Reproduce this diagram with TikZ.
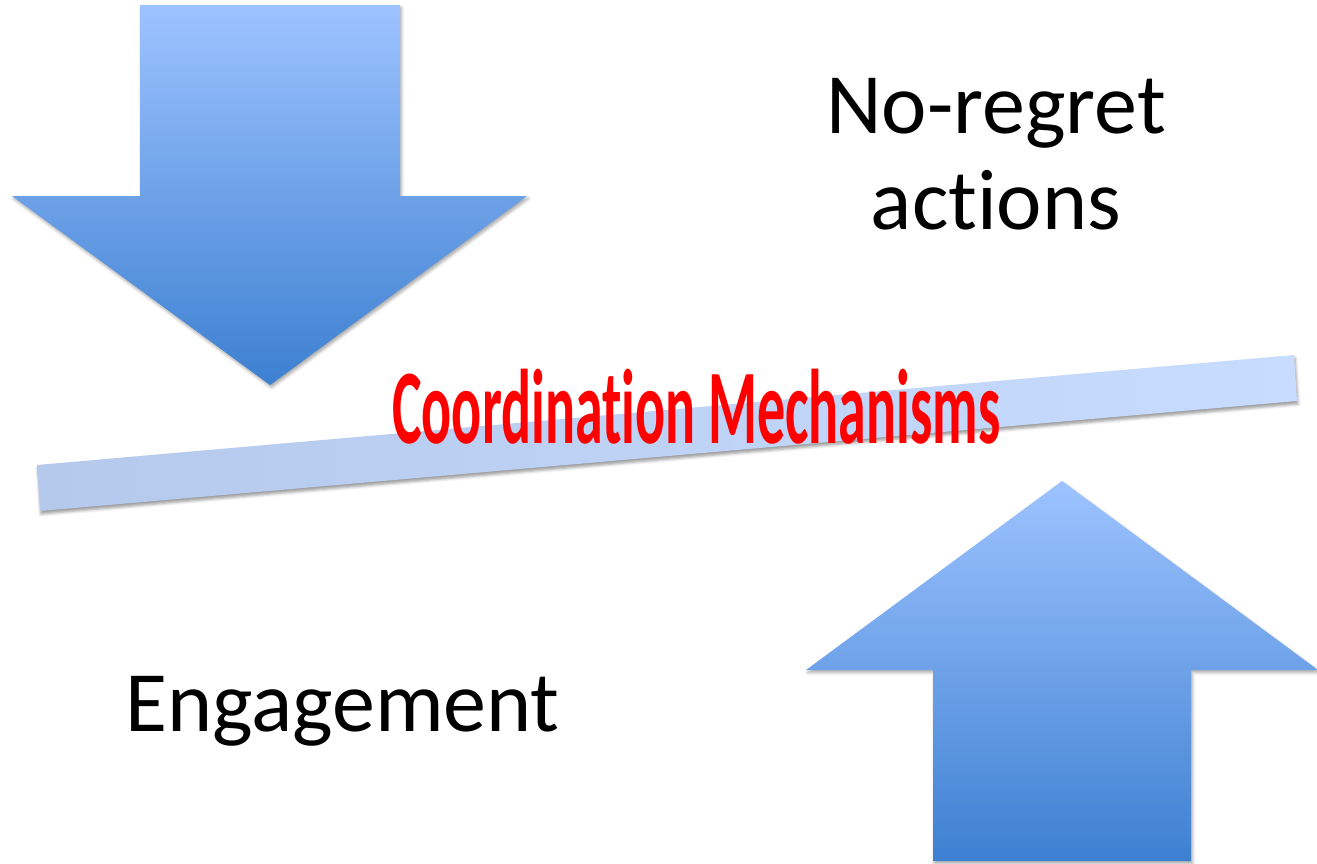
\documentclass[tikz,border=0pt]{standalone}
\usepackage{fontspec}
\setmainfont{Carlito}[Ligatures=NoCommon]
\usetikzlibrary{shadows.blur}
\definecolor{arrowtop}{HTML}{9DC3FF}
\definecolor{arrowmid}{HTML}{84B1F3}
\definecolor{arrowbot}{HTML}{3D80D1}
\definecolor{beamleft}{HTML}{B4C9EC}
\definecolor{beamright}{HTML}{C8DCFF}
\begin{document}
\begin{tikzpicture}[x=1pt,y=-1pt,
    bigarrow/.style={top color=arrowtop,middle color=arrowmid,bottom color=arrowbot,
      blur shadow={shadow xshift=1.5pt,shadow yshift=-2.5pt,shadow blur radius=3pt,shadow opacity=35}},
    beam/.style={left color=beamleft,right color=beamright,
      blur shadow={shadow xshift=1pt,shadow yshift=-3pt,shadow blur radius=3pt,shadow opacity=40}},
    caption/.style={inner sep=0pt,font=\fontsize{86}{96}\selectfont}]
  \useasboundingbox (0,0) rectangle (1317,863);
  \path[bigarrow] (140,5) -- (400,5) -- (400,196) -- (527,196) -- (270,385) -- (12,196) -- (140,196) -- cycle;
  \path[bigarrow] (933,861) -- (1191,861) -- (1191,670) -- (1318,670) -- (1062,481) -- (806,670) -- (933,670) -- cycle;
  \path[beam] (37,465) -- (1294,355) -- (1297,401) -- (40,511) -- cycle;
  \node[caption,anchor=base west] (engage) at (125,731) {Engagement};
  \node[caption,align=center,anchor=north] (noregret) at (996,78) {No-regret\\actions};
  \node[inner sep=0pt,text=red,anchor=base west,font=\fontsize{106}{106}\selectfont\bfseries] (coord) at (392,443)
    {\scalebox{0.528}[1]{Coordination Mechanisms}};
\end{tikzpicture}
\end{document}
